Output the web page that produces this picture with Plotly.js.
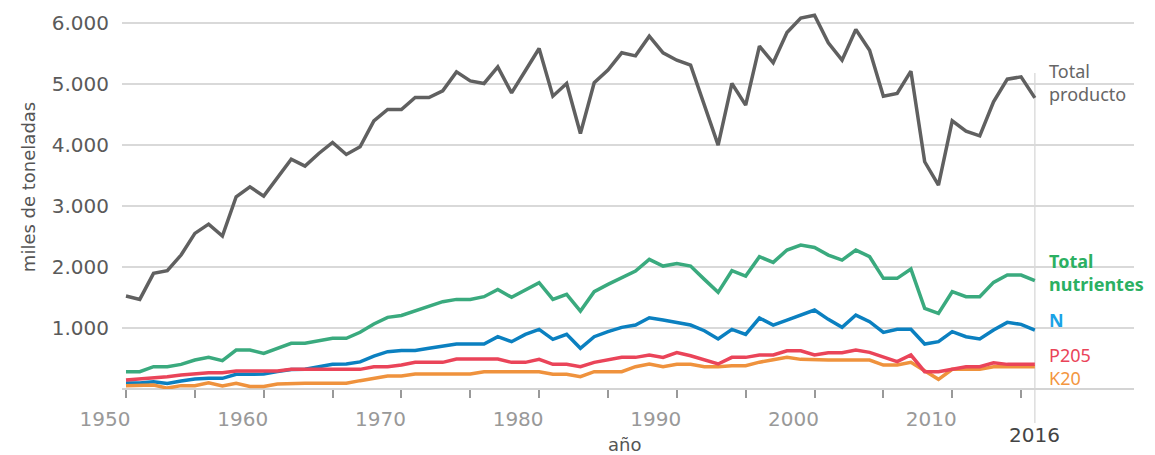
<!DOCTYPE html>
<html>
<head>
<meta charset="utf-8">
<script src="https://cdn.plot.ly/plotly-3.0.1.min.js"></script>
<style>html,body{margin:0;padding:0;background:#fff;}#chart{width:1155px;height:455px;}</style>
</head>
<body>
<div id="chart"></div>
<script>
const years = [1950,1951,1952,1953,1954,1955,1956,1957,1958,1959,
  1960,1961,1962,1963,1964,1965,1966,1967,1968,1969,
  1970,1971,1972,1973,1974,1975,1976,1977,1978,1979,
  1980,1981,1982,1983,1984,1985,1986,1987,1988,1989,
  1990,1991,1992,1993,1994,1995,1996,1997,1998,1999,
  2000,2001,2002,2003,2004,2005,2006,2007,2008,2009,
  2010,2011,2012,2013,2014,2015,2016];

const totalProducto = [1525,1470,1897,1940,2197,2552,2705,2508,3153,3317,
  3164,3470,3770,3656,3863,4044,3847,3972,4398,4585,
  4585,4781,4781,4890,5202,5054,5011,5284,4857,5220,
  5585,4803,5011,4192,5022,5230,5514,5464,5787,5514,
  5393,5311,4670,4000,5011,4656,5623,5350,5847,6085,
  6131,5677,5393,5897,5557,4803,4847,5213,3727,3344,
  4398,4230,4153,4710,5082,5120,4775];

const totalNutrientes = [284,284,366,366,404,475,519,464,639,639,
  585,667,749,749,792,831,831,930,1066,1175,
  1205,1279,1366,1432,1470,1470,1514,1634,1503,1623,
  1743,1470,1552,1279,1596,1716,1831,1934,2126,2016,
  2060,2016,1798,1585,1940,1852,2170,2077,2279,2361,
  2322,2197,2115,2279,2170,1815,1815,1967,1323,1241,
  1596,1514,1514,1749,1869,1869,1776];

const nitrogeno = [100,100,120,90,130,165,175,175,240,245,
  245,285,320,325,365,405,410,445,540,612,
  630,630,667,705,738,738,738,858,776,896,
  978,814,896,667,858,940,1011,1049,1169,1131,
  1087,1049,956,820,978,896,1164,1049,1131,1213,
  1295,1142,1011,1213,1104,929,978,978,738,776,
  940,858,820,967,1093,1060,967];

const p2o5 = [148,164,175,202,230,246,265,265,295,295,
  295,295,322,322,322,322,322,322,366,366,
  393,437,437,437,492,492,492,492,437,437,
  486,404,404,366,437,475,519,519,557,519,
  596,546,475,410,519,519,557,557,628,628,
  557,596,596,639,601,530,448,557,284,284,
  322,366,366,431,404,404,404];

const k2o = [55,55,66,15,55,55,100,50,93,40,
  40,82,93,93,93,93,93,137,175,213,
  213,246,246,246,246,246,284,284,284,284,
  284,241,241,202,284,284,284,366,410,366,
  404,404,366,366,383,383,440,480,519,486,
  475,475,475,475,475,393,393,437,300,159,
  322,322,322,366,366,366,366];

const xLabelYears = [1950,1960,1970,1980,1990,2000,2010];
const xLabelText = ['1950','1960','1970','1980','1990','2000','2010'];
const xMinorTicks = [1955,1965,1975,1985,1995,2005,2015];
const yTickVals = [1000,2000,3000,4000,5000,6000];
const yTickText = ['1.000','2.000','3.000','4.000','5.000','6.000'];
const lastYear = years[years.length - 1];

const series = [
  {name:'Total producto', y: totalProducto, color:'#606060'},
  {name:'Total nutrientes', y: totalNutrientes, color:'#3aaa7e'},
  {name:'N', y: nitrogeno, color:'#0b80c0'},
  {name:'K20', y: k2o, color:'#ef923d'},
  {name:'P205', y: p2o5, color:'#ea4459'}
];

const traces = series.map(s => ({
  type:'scatter', mode:'lines', x: years, y: s.y, name: s.name,
  line:{color:s.color, width:3.5}, hoverinfo:'skip'
}));

const labelFont = 'Noto Sans, sans-serif';
const annotations = [
  {text:'Total<br>producto', x:0.914, xref:'paper', y:5025, yref:'y', xanchor:'left', yanchor:'middle', align:'left', showarrow:false, font:{family:labelFont, size:18, color:'#666666'}},
  {text:'<b>Total<br>nutrientes</b>', x:0.914, xref:'paper', y:1903, yref:'y', xanchor:'left', yanchor:'middle', align:'left', showarrow:false, font:{family:labelFont, size:18, color:'#2bb062'}},
  {text:'<b>N</b>', x:0.914, xref:'paper', y:1131, yref:'y', xanchor:'left', yanchor:'middle', showarrow:false, font:{family:labelFont, size:18, color:'#1aa3e6'}},
  {text:'<span style="color:#ea4459">P205</span><br><span style="color:#f3963f">K20</span>', x:0.914, xref:'paper', y:377, yref:'y', xanchor:'left', yanchor:'middle', align:'left', showarrow:false, font:{family:labelFont, size:18, color:'#ea4459'}},
  {text:String(lastYear), x:lastYear, xref:'x', y:-0.1217, yref:'paper', xanchor:'center', yanchor:'middle', showarrow:false, font:{family:'DejaVu Sans', size:20, color:'#444444'}},
  {text:'año', x:0.497, xref:'paper', y:-0.148, yref:'paper', xanchor:'center', yanchor:'middle', showarrow:false, font:{family:'DejaVu Sans', size:18, color:'#555555'}},
  {text:'miles de toneladas', x:-0.0929, xref:'paper', y:0.534, yref:'paper', xanchor:'center', yanchor:'middle', textangle:-90, showarrow:false, font:{family:'DejaVu Sans', size:18, color:'#555555'}}
];

const layout = {
  width:1155, height:455,
  margin:{l:122, r:21, t:11, b:66, pad:0},
  paper_bgcolor:'#ffffff', plot_bgcolor:'#ffffff',
  showlegend:false,
  font:{family:'DejaVu Sans, sans-serif'},
  xaxis:{
    range:[1949.71, 2023.2], showgrid:false, zeroline:false, showline:false,
    tickmode:'array', tickvals:xLabelYears, ticktext:xLabelText,
    ticks:'outside', ticklen:8, tickwidth:2, tickcolor:'#999999',
    ticklabelshift:-21, ticklabelstandoff:4,
    tickfont:{family:'DejaVu Sans', size:20, color:'#999999'},
    minor:{tickmode:'array', tickvals:xMinorTicks, ticks:'outside', ticklen:8, tickwidth:2, tickcolor:'#999999', showgrid:false}
  },
  yaxis:{
    range:[0, 6200], showgrid:true, gridcolor:'#d9d9d9', gridwidth:1.5,
    zeroline:true, zerolinecolor:'#d4d4d4', zerolinewidth:1.5, showline:false,
    tickmode:'array', tickvals:yTickVals, ticktext:yTickText, ticks:'',
    ticklabelstandoff:12,
    tickfont:{family:'DejaVu Sans', size:20, color:'#5a5a5a'}
  },
  shapes:[{type:'line', xref:'x', yref:'paper', x0:lastYear, x1:lastYear, y0:0.836, y1:-0.09, line:{color:'#dddddd', width:1.5}, layer:'below'}],
  annotations: annotations
};

Plotly.newPlot('chart', traces, layout, {staticPlot:true, displayModeBar:false});
</script>
</body>
</html>
